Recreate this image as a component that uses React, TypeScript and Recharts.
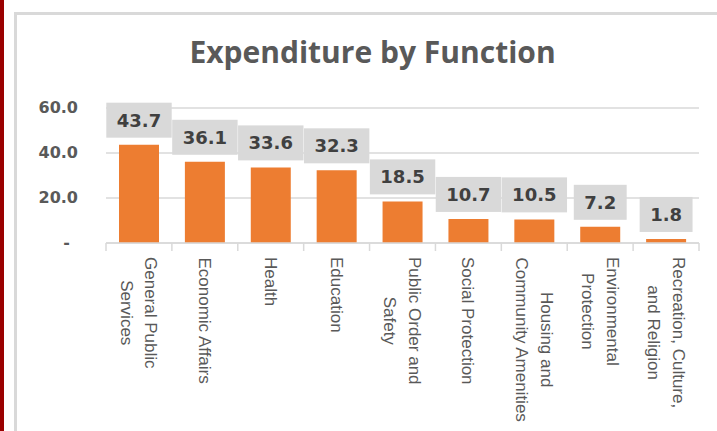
import React from "react";
import { BarChart, Bar, XAxis, YAxis, CartesianGrid, LabelList } from "recharts";

const title = "Expenditure by Function";
const categories = [
  "General Public\nServices",
  "Economic Affairs",
  "Health",
  "Education",
  "Public Order and\nSafety",
  "Social Protection",
  "Housing and\nCommunity Amenities",
  "Environmental\nProtection",
  "Recreation, Culture,\nand Religion",
];
const values = [43.7, 36.1, 33.6, 32.3, 18.5, 10.7, 10.5, 7.2, 1.8];
const yTicks = [0, 20, 40, 60];

const data = categories.map((name, i) => ({ name, value: values[i] }));

const W = 717;
const H = 431;
const MARGIN = { top: 108, right: 18, bottom: 0, left: 0 };
const YAXIS_W = 106;
const XAXIS_H = 188;
const PLOT_W = W - MARGIN.left - YAXIS_W - MARGIN.right;
const BAND = PLOT_W / categories.length;
const GRID = "#d9d9d9";
const TEXT = "#595959";
const LABEL_FONT = "bold 18px 'DejaVu Sans'";
const CAT_SIZE = 17;
const CAT_FONT = `${CAT_SIZE}px 'Liberation Sans'`;

let ctx: CanvasRenderingContext2D | null = null;
function measure(text: string, font: string): number {
  if (!ctx) ctx = document.createElement("canvas").getContext("2d");
  if (!ctx) return text.length * 10;
  ctx.font = font;
  return ctx.measureText(text).width;
}

const XTick = (props: any) => {
  const { x, y, payload, index } = props;
  const lines = String(payload.value).split("\n");
  const maxW = Math.max(...lines.map((l) => measure(l, CAT_FONT)));
  const pitch = 25;
  const n = lines.length;
  const half = BAND / 2;
  const axisY = y - 14;
  return (
    <g>
      <line x1={x - half} x2={x - half} y1={axisY} y2={axisY + 8} stroke={GRID} strokeWidth={1.5} />
      {index === categories.length - 1 && (
        <line x1={x + half} x2={x + half} y1={axisY} y2={axisY + 8} stroke={GRID} strokeWidth={1.5} />
      )}
      <g transform={`translate(${x},${y}) rotate(90)`}>
        {lines.map((l, i) => {
          const cy = (i - (n - 1) / 2) * pitch;
          return (
            <text
              key={i}
              x={maxW / 2}
              y={cy + 0.35 * CAT_SIZE}
              textAnchor="middle"
              fontFamily="'Liberation Sans'"
              fontSize={CAT_SIZE}
              fill={TEXT}
            >
              {l}
            </text>
          );
        })}
      </g>
    </g>
  );
};

const YTick = (props: any) => {
  const { x, y, payload } = props;
  const v = payload.value;
  return (
    <text
      x={v === 0 ? x - 8 : x}
      y={y}
      dy="0.3em"
      textAnchor="end"
      fontFamily="'DejaVu Sans'"
      fontWeight="bold"
      fontSize={16}
      fill={TEXT}
    >
      {v === 0 ? "-" : v.toFixed(1)}
    </text>
  );
};

const DataLabel = (props: any) => {
  const { x, y, width, value } = props;
  const cx = Number(x) + Number(width) / 2;
  const txt = Number(value).toFixed(1);
  const w = measure(txt, LABEL_FONT) + 21;
  const h = 35;
  const bottom = Number(y) - 7;
  return (
    <g>
      <rect x={cx - w / 2} y={bottom - h} width={w} height={h} fill="#d9d9d9" />
      <text
        x={cx}
        y={bottom - h / 2 + 6.5}
        textAnchor="middle"
        fontFamily="'DejaVu Sans'"
        fontWeight="bold"
        fontSize={18}
        fill="#404040"
      >
        {txt}
      </text>
    </g>
  );
};

export default function App() {
  return (
    <div
      style={{
        position: "fixed",
        left: 0,
        top: 0,
        width: W,
        height: H,
        overflow: "hidden",
        background: "#fff",
      }}
    >
      <div style={{ position: "absolute", left: 0, top: 0, width: 4, height: H, background: "#9a0000" }} />
      <div
        style={{
          position: "absolute",
          left: 14,
          top: 12,
          width: 900,
          height: 700,
          border: `3px solid ${GRID}`,
          boxSizing: "border-box",
        }}
      />
      <svg style={{ position: "absolute", left: 0, top: 0 }} width={W} height={H}>
        <text
          x={372.5}
          y={63}
          textAnchor="middle"
          fontFamily="'Open Sans'"
          fontWeight="bold"
          fontSize={30}
          fill={TEXT}
        >
          {title}
        </text>
      </svg>
      <div style={{ position: "absolute", left: 0, top: 0 }}>
        <BarChart width={W} height={H} data={data} margin={MARGIN} barSize={40}>
          <CartesianGrid horizontal vertical={false} stroke={GRID} strokeWidth={1.5} />
          <XAxis
            dataKey="name"
            interval={0}
            height={XAXIS_H}
            axisLine={{ stroke: GRID, strokeWidth: 1.5 }}
            tickLine={false}
            tickSize={0}
            tickMargin={14}
            tick={<XTick />}
          />
          <YAxis
            width={YAXIS_W}
            domain={[0, 60]}
            ticks={yTicks}
            axisLine={false}
            tickLine={false}
            tickSize={0}
            tickMargin={28}
            tick={<YTick />}
          />
          <Bar dataKey="value" fill="#ED7D31" isAnimationActive={false}>
            <LabelList dataKey="value" content={<DataLabel />} />
          </Bar>
        </BarChart>
      </div>
    </div>
  );
}
